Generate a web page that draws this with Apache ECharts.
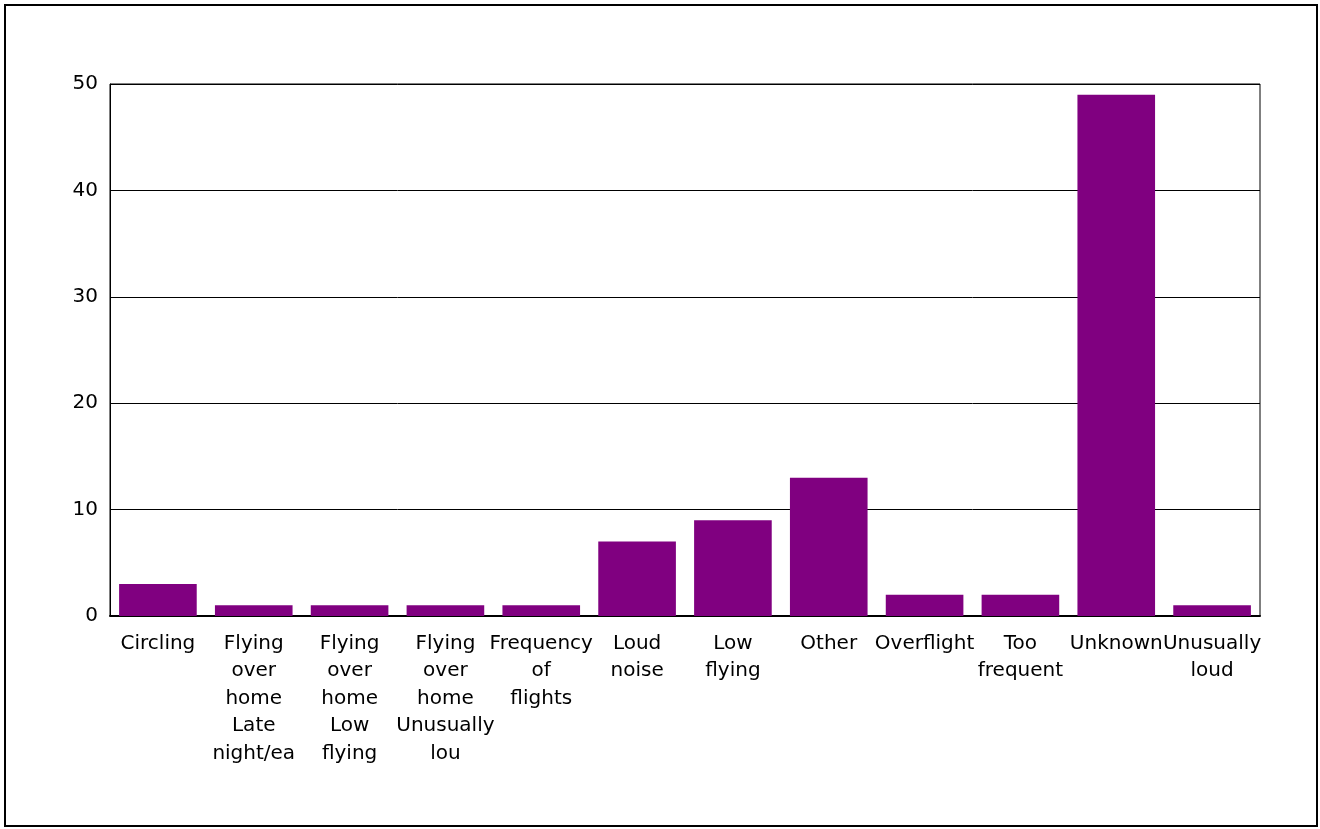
<!DOCTYPE html>
<html>
<head>
<meta charset="utf-8">
<script src="https://cdn.jsdelivr.net/npm/echarts@6/dist/echarts.min.js"></script>
<style>
html,body{margin:0;padding:0;background:#fff;}
#frame{position:absolute;left:4px;top:4px;width:1310px;height:819px;border:2px solid #000;}
#chart{position:absolute;left:0;top:0;width:1320px;height:829px;}
</style>
</head>
<body>
<div id="frame"></div>
<div id="chart"></div>
<script>
const categories = ["Circling","Flying over home Late night/ea","Flying over home Low flying","Flying over home Unusually lou","Frequency of flights","Loud noise","Low flying","Other","Overflight","Too frequent","Unknown","Unusually loud"];
const values = [3,1,1,1,1,7,9,13,2,2,49,1];
const yTicks = {min:0,max:50,interval:10};

const chart = echarts.init(document.getElementById('chart'));
const font = 'DejaVu Sans';
chart.setOption({
  animation:false,
  grid:{left:110,right:60,top:84,bottom:213,show:true,borderColor:'#000',borderWidth:1,containLabel:false},
  xAxis:{type:'category',data:categories,
    axisLine:{show:true,lineStyle:{color:'#000',width:2}},
    axisTick:{show:false},
    axisLabel:{interval:0,color:'#000',fontFamily:font,fontSize:20,lineHeight:27.5,margin:14,
      formatter:v=>v.split(' ').join('\n')}
  },
  yAxis:{type:'value',min:yTicks.min,max:yTicks.max,interval:yTicks.interval,
    axisLine:{show:true,lineStyle:{color:'#000',width:1}},
    axisTick:{show:false},
    splitLine:{show:true,lineStyle:{color:'#000',width:1}},
    axisLabel:{color:'#000',fontFamily:font,fontSize:20,margin:12}
  },
  series:[{type:'bar',data:values,barCategoryGap:'19%',itemStyle:{color:'#800080'}}]
});
</script>
</body>
</html>
